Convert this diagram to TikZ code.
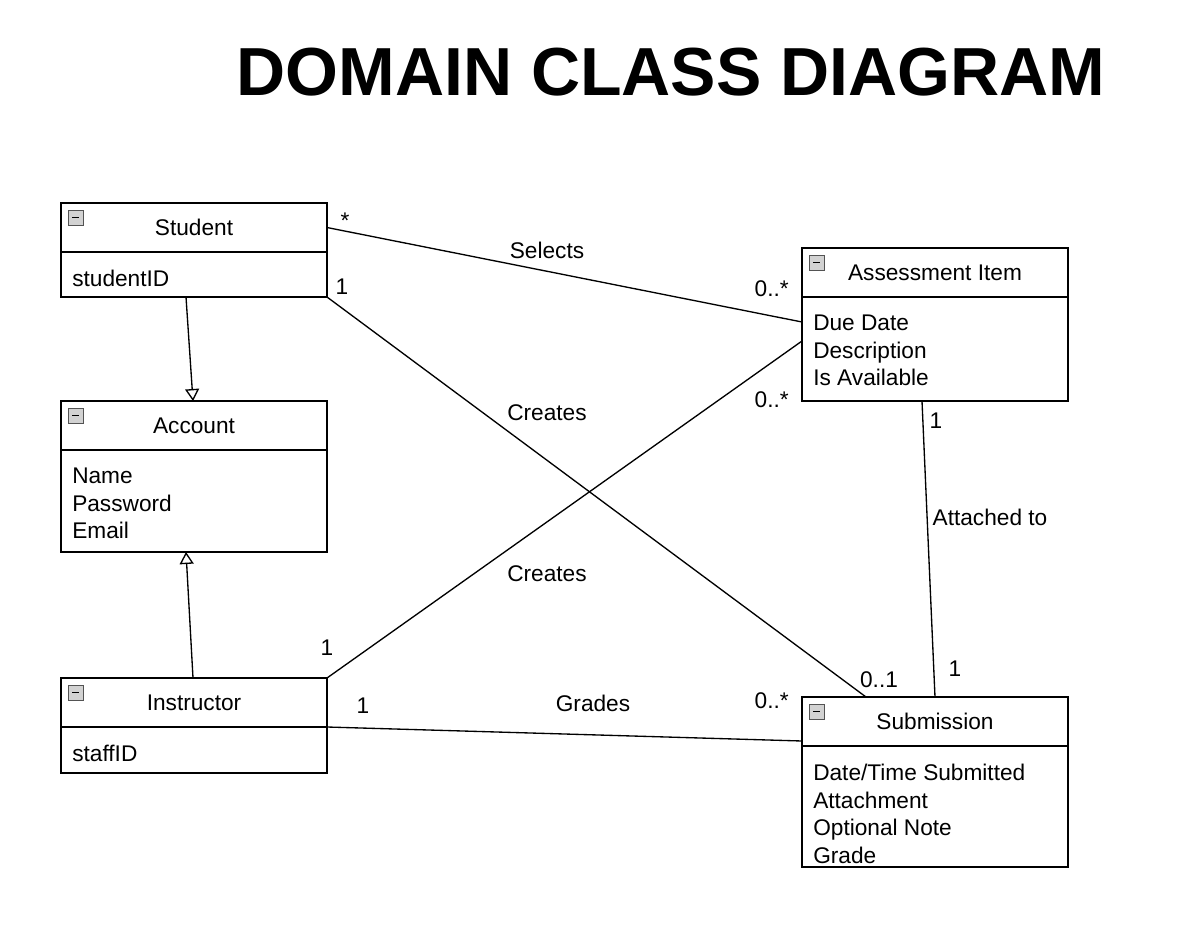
\documentclass[tikz,border=0pt]{standalone}
\usepackage{fontspec}
\setmainfont{Liberation Sans}
\usetikzlibrary{arrows.meta,calc}
\begin{document}
\begin{tikzpicture}[x=0.75pt,y=-0.75pt,
  box/.style={draw, line width=1.4pt, fill=white, minimum width=199.5pt, anchor=north west, inner sep=0pt, outer sep=0pt, font=\fontsize{17}{20.6}\selectfont},
  hdr/.style={box, minimum height=36.75pt},
  attr/.style={anchor=north west, align=left, inner sep=0pt, font=\fontsize{17}{20.6}\selectfont},
  lbl/.style={inner sep=0pt, anchor=base, font=\fontsize{17}{20}\selectfont},
  conn/.style={line width=1pt},
  gen/.style={conn, -{Triangle[open,length=9pt,width=10.5pt,line width=1pt]}},
  classicon/.pic={
    \draw[fill=gray!35, draw=gray!65!black, line width=0.6pt] (0,0) rectangle (15,15);
    \draw[line width=1.3pt] (4,7.5) -- (11,7.5);
  }
]
\useasboundingbox (0,0) rectangle (1200,932);
\fill[white] (0,0) rectangle (1200,932);

\node[anchor=base, inner sep=0pt, font=\fontsize{51}{60}\selectfont\bfseries] (title) at (671,95) {DOMAIN CLASS DIAGRAM};

% Student
\node[hdr] (stuH) at (61,203) {Student};
\node[box, minimum height=33.75pt] (stuB) at (stuH.south west) {};
\node[attr] (stuA) at ($(stuB.north west)+(11,18)$) {studentID};
\pic at ($(stuH.north west)+(7,7)$) {classicon};

% Account
\node[hdr] (accH) at (61,401) {Account};
\node[box, minimum height=76.5pt] (accB) at (accH.south west) {};
\node[attr] (accA) at ($(accB.north west)+(11,18)$) {Name\\Password\\Email};
\pic at ($(accH.north west)+(7,7)$) {classicon};

% Instructor
\node[hdr] (insH) at (61,678) {Instructor};
\node[box, minimum height=34.5pt] (insB) at (insH.south west) {};
\node[attr] (insA) at ($(insB.north west)+(11,18)$) {staffID};
\pic at ($(insH.north west)+(7,7)$) {classicon};

% Assessment Item
\node[hdr] (asH) at (802,248) {Assessment Item};
\node[box, minimum height=78pt] (asB) at (asH.south west) {};
\node[attr] (asA) at ($(asB.north west)+(11,18)$) {Due Date\\Description\\Is Available};
\pic at ($(asH.north west)+(7,7)$) {classicon};

% Submission
\node[hdr] (subH) at (802,697) {Submission};
\node[box, minimum height=90.75pt] (subB) at (subH.south west) {};
\node[attr] (subA) at ($(subB.north west)+(11,18)$) {Date/Time Submitted\\Attachment\\Optional Note\\Grade};
\pic at ($(subH.north west)+(7,7)$) {classicon};

% Generalizations
\draw[gen] ($(stuB.south west)+(125,0)$) -- ($(accH.north west)+(132,0)$);
\draw[gen] ($(insH.north west)+(132,0)$) -- ($(accB.south west)+(125,0)$);

% Selects
\draw[conn] (stuH.east) -- ($(asB.north west)+(0,25)$);
\node[lbl] (selL) at (547,258) {Selects};
\node[lbl] (selM1) at (345,228) {*};
\node[lbl, anchor=base east] (selM2) at (789,296) {0..*};

% Creates (Student - Submission)
\draw[conn] (stuB.south east) -- ($(subH.north west)+(64,0)$);
\node[lbl] (cr1L) at (547,420) {Creates};
\node[lbl] (cr1M1) at (342,294) {1};
\node[lbl] (cr1M2) at (879,687) {0..1};

% Creates (Instructor - Assessment)
\draw[conn] (insH.north east) -- ($(asB.north west)+(0,44)$);
\node[lbl] (cr2L) at (547,581) {Creates};
\node[lbl] (cr2M1) at (327,655) {1};
\node[lbl, anchor=base east] (cr2M2) at (789,407) {0..*};

% Attached to
\draw[conn] ($(asB.south west)+(120,0)$) -- ($(subH.north west)+(133,0)$);
\node[lbl] (atL) at (990,525) {Attached to};
\node[lbl] (atM1) at (936,428) {1};
\node[lbl] (atM2) at (955,676) {1};

% Grades
\draw[conn] (insB.north east) -- ($(subB.north west)+(0,-5)$);
\node[lbl] (grL) at (593,711) {Grades};
\node[lbl] (grM1) at (363,713) {1};
\node[lbl, anchor=base east] (grM2) at (789,708) {0..*};
\end{tikzpicture}
\end{document}
